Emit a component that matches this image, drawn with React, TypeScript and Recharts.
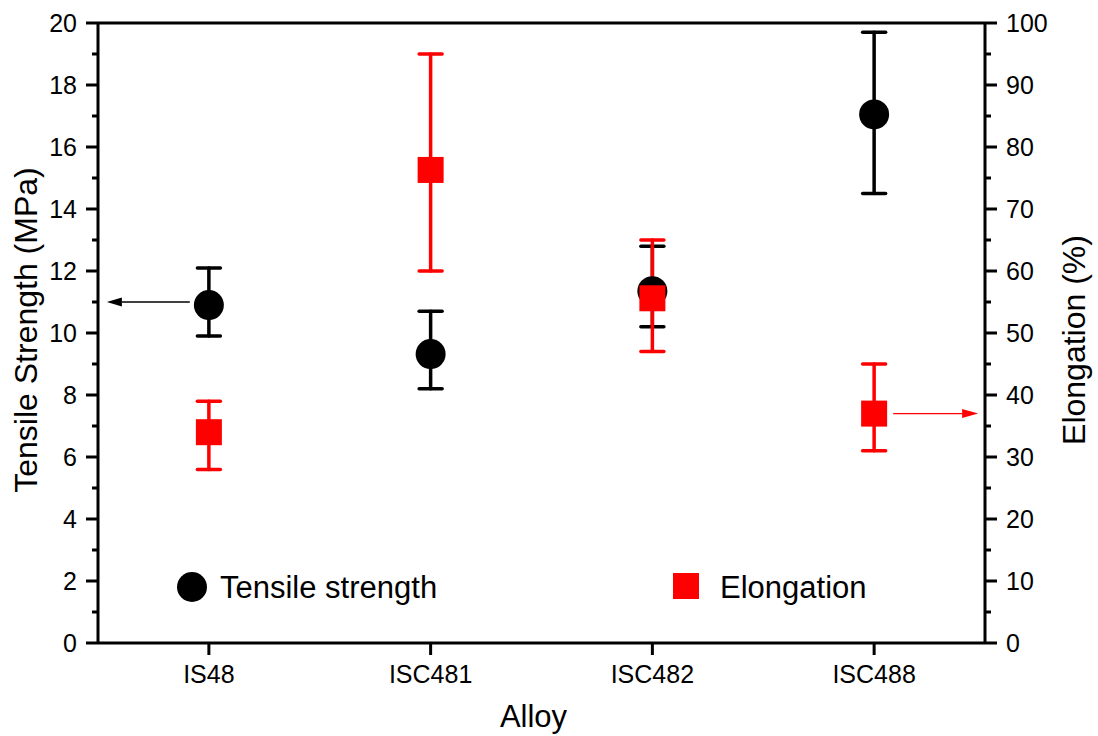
import React from 'react';
import { ComposedChart, Scatter, XAxis, YAxis, ErrorBar, ReferenceLine, Legend } from 'recharts';

const alloys = ['IS48', 'ISC481', 'ISC482', 'ISC488'];
const tensile = [10.9, 9.32, 11.35, 17.05];
const tensileMin = [9.9, 8.2, 10.2, 14.5];
const tensileMax = [12.1, 10.7, 12.8, 19.7];
const elongation = [34.0, 76.3, 55.6, 37.0];
const elongationMin = [28.0, 60.0, 47.0, 31.0];
const elongationMax = [39.0, 95.0, 65.0, 45.0];
const leftTicks = [0, 1, 2, 3, 4, 5, 6, 7, 8, 9, 10, 11, 12, 13, 14, 15, 16, 17, 18, 19, 20];
const rightTicks = [0, 5, 10, 15, 20, 25, 30, 35, 40, 45, 50, 55, 60, 65, 70, 75, 80, 85, 90, 95, 100];
const xTicks = [0, 1, 2, 3];
// annotation arrows (data units): pointing from the series to its axis
const tensileArrow = { y: 11, from: -0.086, to: -0.46 };
const elongationArrow = { y: 37, from: 3.086, to: 3.469 };

const data = alloys.map((a, i) => ({
  x: i,
  name: a,
  ts: tensile[i],
  tsErr: [tensile[i] - tensileMin[i], tensileMax[i] - tensile[i]],
  el: elongation[i],
  elErr: [elongation[i] - elongationMin[i], elongationMax[i] - elongation[i]],
}));

const FONT = 'Arial, "Liberation Sans", sans-serif';
const TICK_FS = 25;

const LeftTick = (props: any) => {
  const { x, y, payload } = props;
  const v = payload.value;
  const major = v % 2 === 0;
  const len = major ? 12 : 6;
  return (
    <g>
      <line x1={x - len} y1={y} x2={x} y2={y} stroke="#000" strokeWidth={3} />
      {major && (
        <text x={x - 21} y={y} dy="0.36em" textAnchor="end" fontSize={TICK_FS} fontFamily={FONT} fill="#000">
          {v}
        </text>
      )}
    </g>
  );
};

const RightTick = (props: any) => {
  const { x, y, payload } = props;
  const v = payload.value;
  const major = v % 10 === 0;
  const len = major ? 12 : 6;
  return (
    <g>
      <line x1={x} y1={y} x2={x + len} y2={y} stroke="#000" strokeWidth={3} />
      {major && (
        <text x={x + 21} y={y} dy="0.36em" textAnchor="start" fontSize={TICK_FS} fontFamily={FONT} fill="#000">
          {v}
        </text>
      )}
    </g>
  );
};

const Circle = (p: any) => <circle cx={p.cx} cy={p.cy} r={15} fill="#000" />;
const Square = (p: any) => <rect x={p.cx - 13} y={p.cy - 13} width={26} height={26} fill="#ff0000" />;

const arrowShape = (color: string, head: number, hw: number) => (p: any) => {
  const { x1, y1, x2, y2 } = p;
  const dir = x2 > x1 ? 1 : -1;
  return (
    <g>
      <line x1={x1} y1={y1} x2={x2 - dir * head} y2={y2} stroke={color} strokeWidth={1.3} />
      <polygon points={`${x2},${y2} ${x2 - dir * head},${y2 - hw} ${x2 - dir * head},${y2 + hw}`} fill={color} />
    </g>
  );
};

const legendSlots: Record<string, { icon: number; text: number; shape: string }> = {
  'Tensile strength': { icon: 192, text: 220, shape: 'circle' },
  Elongation: { icon: 686, text: 720, shape: 'square' },
};

const LegendContent = (props: any) => {
  const payload = props.payload || [];
  return (
    <svg width={1098} height={50} style={{ display: 'block' }}>
      {payload.map((entry: any, i: number) => {
        const p = legendSlots[entry.value];
        if (!p) return null;
        return (
          <g key={i}>
            {p.shape === 'circle' ? (
              <circle cx={p.icon} cy={27} r={15} fill={entry.color} />
            ) : (
              <rect x={p.icon - 13} y={13} width={26} height={26} fill={entry.color} />
            )}
            <text x={p.text} y={38} fontSize={31} fontFamily={FONT} fill="#000">
              {entry.value}
            </text>
          </g>
        );
      })}
    </svg>
  );
};

export default function App() {
  return (
    <div style={{ position: 'absolute', left: 0, top: 0, width: 1098, height: 736, background: '#fff' }}>
      <ComposedChart width={1098} height={736} data={data} margin={{ top: 23, right: 0, bottom: 0, left: 0 }}>
        <XAxis
          dataKey="x"
          type="number"
          domain={[-0.5, 3.5]}
          ticks={xTicks}
          allowDataOverflow
          tickFormatter={(v: number) => alloys[v]}
          height={93}
          axisLine={{ stroke: '#000', strokeWidth: 3 }}
          tickLine={{ stroke: '#000', strokeWidth: 3 }}
          tickSize={12}
          tickMargin={10}
          tick={{ fontSize: TICK_FS, fontFamily: FONT, fill: '#000' }}
          label={{
            content: (lp: any) => {
              const vb = lp.viewBox;
              return (
                <text x={vb.x + vb.width / 2 - 8} y={727} textAnchor="middle" fontSize={31} fontFamily={FONT} fill="#000">
                  Alloy
                </text>
              );
            },
          }}
        />
        <YAxis
          yAxisId="L"
          orientation="left"
          domain={[0, 20]}
          ticks={leftTicks}
          interval={0}
          width={98}
          axisLine={{ stroke: '#000', strokeWidth: 3 }}
          tickLine={false}
          tickSize={0}
          tickMargin={0}
          tick={<LeftTick />}
          label={{
            content: (lp: any) => {
              const vb = lp.viewBox;
              const cx = 25;
              const cy = vb.y + vb.height / 2 - 3;
              return (
                <text x={cx} y={cy} dy="0.36em" transform={`rotate(-90, ${cx}, ${cy})`} textAnchor="middle" fontSize={32} fontFamily={FONT} fill="#000">
                  Tensile Strength (MPa)
                </text>
              );
            },
          }}
        />
        <YAxis
          yAxisId="R"
          orientation="right"
          domain={[0, 100]}
          ticks={rightTicks}
          interval={0}
          width={113}
          axisLine={{ stroke: '#000', strokeWidth: 3 }}
          tickLine={false}
          tickSize={0}
          tickMargin={0}
          tick={<RightTick />}
          label={{
            content: (lp: any) => {
              const vb = lp.viewBox;
              const cx = vb.x + 88;
              const cy = vb.y + vb.height / 2 + 7;
              return (
                <text x={cx} y={cy} dy="0.36em" transform={`rotate(-90, ${cx}, ${cy})`} textAnchor="middle" fontSize={32} fontFamily={FONT} fill="#000">
                  Elongation (%)
                </text>
              );
            },
          }}
        />
        <ReferenceLine yAxisId="L" y={20} stroke="#000" strokeWidth={3} />
        <ReferenceLine
          yAxisId="L"
          segment={[{ x: tensileArrow.from, y: tensileArrow.y }, { x: tensileArrow.to, y: tensileArrow.y }]}
          shape={arrowShape('#000', 15, 4.5)}
        />
        <ReferenceLine
          yAxisId="R"
          segment={[{ x: elongationArrow.from, y: elongationArrow.y }, { x: elongationArrow.to, y: elongationArrow.y }]}
          shape={arrowShape('#ff0000', 16, 4.5)}
        />
        <Scatter name="Tensile strength" yAxisId="L" dataKey="ts" fill="#000" shape={Circle} isAnimationActive={false}>
          <ErrorBar dataKey="tsErr" direction="y" width={11.5} stroke="#000" strokeWidth={3.5} strokeLinecap="round" isAnimationActive={false} />
        </Scatter>
        <Scatter name="Elongation" yAxisId="R" dataKey="el" fill="#ff0000" shape={Square} isAnimationActive={false}>
          <ErrorBar dataKey="elErr" direction="y" width={11.5} stroke="#ff0000" strokeWidth={3.5} strokeLinecap="round" isAnimationActive={false} />
        </Scatter>
        <Legend
          layout="horizontal"
          verticalAlign="middle"
          align="center"
          content={<LegendContent />}
          wrapperStyle={{ position: 'absolute', left: 0, top: 560, width: 1098, height: 50 }}
        />
      </ComposedChart>
    </div>
  );
}
